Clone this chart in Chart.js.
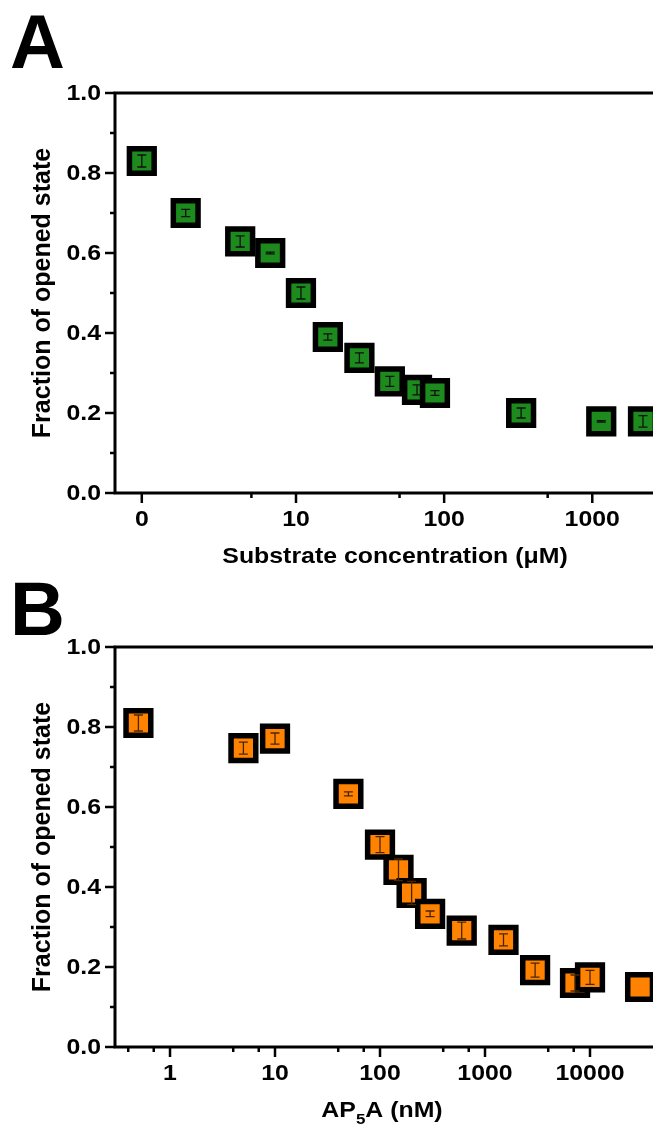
<!DOCTYPE html>
<html>
<head>
<meta charset="utf-8">
<script src="https://cdn.jsdelivr.net/npm/chart.js@4"></script>
<style>
  html, body { margin: 0; padding: 0; background: #fff; overflow: hidden; }
  canvas { display: block; }
</style>
</head>
<body>
<canvas id="chartA" width="653" height="576"></canvas>
<canvas id="chartB" width="653" height="550"></canvas>
<script>
// Panel A - substrate titration
const ZERO_AT = 0.91; // where the "0" point sits on the log axis
const substrateConc = [0, 1.8, 4.2, 6.7, 10.8, 16.4, 26.8, 43, 65.6, 86.7, 331, 1150, 2200];
const openedA = [0.83, 0.70, 0.629, 0.60, 0.50, 0.39, 0.338, 0.279, 0.258, 0.25, 0.20, 0.179, 0.179];
const errA = [0.015, 0.009, 0.014, 0.002, 0.015, 0.008, 0.0125, 0.0125, 0.0125, 0.006, 0.0125, 0.002, 0.0145];
const substrateTicks = [0, 10, 100, 1000];
const substrateMinor = [5, 50, 500];

// Panel B - AP5A titration
const ap5aConc = [0.5, 5, 10, 50, 100, 150, 200, 300, 600, 1500, 3000, 7200, 10000, 30000];
const openedB = [0.81, 0.747, 0.771, 0.633, 0.506, 0.443, 0.385, 0.333, 0.291, 0.268, 0.192, 0.16, 0.174, 0.15];
const errB = [0.02, 0.015, 0.014, 0.005, 0.02, 0.027, 0.029, 0.007, 0.021, 0.015, 0.0175, 0.02, 0.0175, 0];
const ap5aTicks = [1, 10, 100, 1000, 10000];
const ap5aMinor = [0.4, 0.7, 4, 7, 40, 70, 400, 700, 4000, 7000];

const yMajor = [0, 0.2, 0.4, 0.6, 0.8, 1.0];
const yMinor = [0.1, 0.3, 0.5, 0.7, 0.9];

const FONT = 'bold 22px "Liberation Sans", Arial, sans-serif';
const SUBFONT = 'bold 15px "Liberation Sans", Arial, sans-serif';
const YTITLE_FONT = 'bold 25px "Liberation Sans", Arial, sans-serif';
const STRETCH = 1.13;

function txt(ctx, s, x, y, sx, sy) {
  ctx.save();
  ctx.translate(x, y);
  ctx.scale(sx, sy);
  ctx.fillText(s, 0, 0);
  ctx.restore();
}

// axes, ticks, labels and titles drawn from the chart's own scales
const framePlugin = {
  id: 'frame',
  beforeDatasetsDraw(chart, args, o) {
    const { ctx, chartArea: a, scales: { x, y } } = chart;
    ctx.save();
    ctx.strokeStyle = '#000';
    ctx.fillStyle = '#000';
    ctx.lineWidth = 3;
    ctx.beginPath();
    ctx.moveTo(a.left, a.top - 1.5); ctx.lineTo(a.left, a.bottom + 1.5);
    ctx.moveTo(a.left, a.bottom); ctx.lineTo(a.right, a.bottom);
    ctx.moveTo(a.left, a.top); ctx.lineTo(a.right, a.top);
    ctx.stroke();

    ctx.lineWidth = 2.5;
    ctx.beginPath();
    yMajor.forEach(v => { const p = y.getPixelForValue(v); ctx.moveTo(a.left - 10, p); ctx.lineTo(a.left, p); });
    yMinor.forEach(v => { const p = y.getPixelForValue(v); ctx.moveTo(a.left - 5, p); ctx.lineTo(a.left, p); });
    o.ticks.forEach(v => { const p = x.getPixelForValue(o.pos(v)); ctx.moveTo(p, a.bottom); ctx.lineTo(p, a.bottom + 10); });
    o.minor.forEach(v => { const p = x.getPixelForValue(v); ctx.moveTo(p, a.bottom); ctx.lineTo(p, a.bottom + 5); });
    ctx.stroke();

    ctx.font = FONT;
    ctx.textBaseline = 'middle';
    ctx.textAlign = 'right';
    yMajor.forEach(v => txt(ctx, v.toFixed(1), a.left - 14, y.getPixelForValue(v) + 1, STRETCH, 1));
    ctx.textAlign = 'center';
    o.ticks.forEach(v => txt(ctx, String(v), x.getPixelForValue(o.pos(v)), a.bottom + 27, STRETCH, 1));

    // y title
    ctx.save();
    ctx.font = YTITLE_FONT;
    ctx.textBaseline = 'alphabetic';
    ctx.translate(50, (a.top + a.bottom) / 2);
    ctx.rotate(-Math.PI / 2);
    ctx.textAlign = 'center';
    ctx.fillText('Fraction of opened state', 0, 0);
    ctx.restore();

    // x title, with optional subscript pieces
    const parts = o.xTitle;
    ctx.textBaseline = 'middle';
    ctx.textAlign = 'left';
    let total = 0;
    parts.forEach(p => {
      ctx.font = p.sub ? SUBFONT : FONT;
      total += ctx.measureText(p.t).width * STRETCH;
    });
    let cx = o.xTitleCenter - total / 2;
    const ty = a.bottom + 64;
    parts.forEach(p => {
      ctx.font = p.sub ? SUBFONT : FONT;
      txt(ctx, p.t, cx, p.sub ? ty + 9 : ty, STRETCH, 1);
      cx += ctx.measureText(p.t).width * STRETCH;
    });

    // panel letter
    ctx.font = 'bold 76px "Liberation Sans", Arial, sans-serif';
    ctx.textBaseline = 'alphabetic';
    ctx.fillText(o.letter, 10, o.letterBase);
    ctx.restore();
  }
};

const errorPlugin = {
  id: 'errbars',
  afterDatasetsDraw(chart, args, o) {
    const { ctx, scales: { y } } = chart;
    const meta = chart.getDatasetMeta(0);
    ctx.save();
    ctx.strokeStyle = o.color;
    ctx.lineWidth = 1.3;
    ctx.beginPath();
    meta.data.forEach((pt, i) => {
      const v = chart.data.datasets[0].data[i].y;
      const e = o.err[i];
      if (!e) return;
      const top = y.getPixelForValue(v + e);
      const bot = y.getPixelForValue(v - e);
      ctx.moveTo(pt.x, top); ctx.lineTo(pt.x, bot);
      ctx.moveTo(pt.x - 4.5, top); ctx.lineTo(pt.x + 4.5, top);
      ctx.moveTo(pt.x - 4.5, bot); ctx.lineTo(pt.x + 4.5, bot);
    });
    ctx.stroke();
    ctx.restore();
  }
};

function makeChart(id, xs, ys, fill, errs, errColor, xMin, xMax, pad, frameOpts) {
  const posFn = frameOpts.pos;
  new Chart(document.getElementById(id), {
    type: 'scatter',
    data: {
      datasets: [{
        data: xs.map((v, i) => ({ x: posFn(v), y: ys[i] })),
        pointStyle: 'rect',
        pointRadius: 17.5,
        pointHoverRadius: 17.5,
        borderWidth: 5.5,
        borderColor: '#000',
        backgroundColor: fill,
        clip: false
      }]
    },
    options: {
      responsive: false,
      animation: false,
      events: [],
      layout: { padding: pad, autoPadding: false },
      scales: {
        x: { type: 'logarithmic', min: xMin, max: xMax, display: false },
        y: { min: 0, max: 1, display: false }
      },
      plugins: {
        legend: { display: false },
        tooltip: { enabled: false },
        frame: frameOpts,
        errbars: { err: errs, color: errColor }
      }
    },
    plugins: [framePlugin, errorPlugin]
  });
}

makeChart('chartA', substrateConc, openedA, '#1c8a1c', errA, '#111',
  0.6477, 2570, { left: 115, right: 0, top: 93, bottom: 83 }, {
    ticks: substrateTicks,
    minor: substrateMinor,
    pos: v => (v === 0 ? ZERO_AT : v),
    xTitle: [{ t: 'Substrate concentration (\u03BCM)' }],
    xTitleCenter: 395,
    letter: 'A',
    letterBase: 68
  });

makeChart('chartB', ap5aConc, openedB, '#ff8300', errB, '#4a2600',
  0.2993, 39811, { left: 115, right: 0, top: 71, bottom: 79 }, {
    ticks: ap5aTicks,
    minor: ap5aMinor,
    pos: v => v,
    xTitle: [{ t: 'AP' }, { t: '5', sub: true }, { t: 'A (nM)' }],
    xTitleCenter: 382,
    letter: 'B',
    letterBase: 635 - 576
  });
</script>
</body>
</html>
